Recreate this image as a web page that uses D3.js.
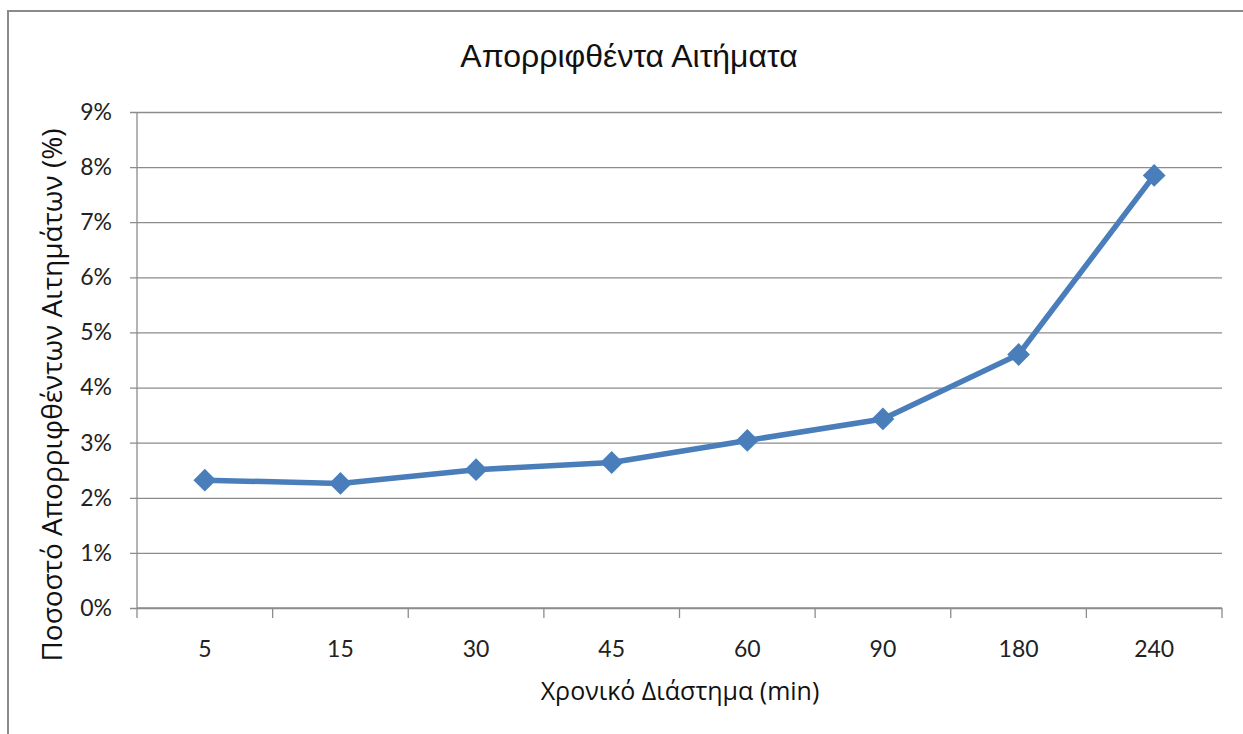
<!DOCTYPE html>
<html>
<head>
<meta charset="utf-8">
<script src="https://cdn.jsdelivr.net/npm/d3@7"></script>
<style>
  html, body { margin: 0; padding: 0; background: #fff; }
  svg { display: block; }
</style>
</head>
<body>
<svg id="chart" width="1243" height="734"></svg>
<script>
// Rejected requests (%) per time window
const categories = ["5", "15", "30", "45", "60", "90", "180", "240"];
const rejectedPct = [2.32, 2.26, 2.51, 2.64, 3.04, 3.43, 4.6, 7.85];
const yTicks = [0, 1, 2, 3, 4, 5, 6, 7, 8, 9];

const titleText = "Απορριφθέντα Αιτήματα";
const xTitleText = "Χρονικό Διάστημα (min)";
const yTitleText = "Ποσοστό Απορριφθέντων Αιτημάτων (%)";

const svg = d3.select("#chart");
const W = 1243, H = 734;
const plot = { left: 137, right: 1222, top: 112, bottom: 608 };
const lineColor = "#4a7ebb";
const gridColor = "#8c8c8c";
const tickFont = "Lato, 'Open Sans', sans-serif";

// outer frame
svg.append("rect")
  .attr("x", 8).attr("y", 11)
  .attr("width", W + 10).attr("height", H + 10)
  .attr("fill", "none").attr("stroke", "#8a8a8a").attr("stroke-width", 2);

const x = d3.scaleBand().domain(categories).range([plot.left, plot.right]).padding(0);
const y = d3.scaleLinear().domain([0, 9]).range([plot.bottom, plot.top]);

// horizontal gridlines + y axis
const yAxis = d3.axisLeft(y)
  .tickValues(yTicks)
  .tickSize(-(plot.right - plot.left))
  .tickSizeOuter(0)
  .tickPadding(25)
  .tickFormat(d => d + "%");
const gy = svg.append("g").attr("transform", `translate(${plot.left},0)`).call(yAxis);
gy.select(".domain").remove();
gy.selectAll(".tick line").attr("stroke", gridColor).attr("stroke-width", 1.3).attr("x1", -7);
gy.selectAll(".tick text")
  .attr("font-family", tickFont)
  .attr("font-size", 23).attr("fill", "#222");

// vertical axis line
svg.append("line")
  .attr("x1", plot.left).attr("x2", plot.left)
  .attr("y1", plot.top).attr("y2", plot.bottom)
  .attr("stroke", gridColor).attr("stroke-width", 1.3);

// category axis with ticks between categories
const gx = svg.append("g").attr("transform", `translate(0,${plot.bottom})`);
gx.append("line")
  .attr("x1", plot.left).attr("x2", plot.right)
  .attr("stroke", gridColor).attr("stroke-width", 1.3);
const bounds = categories.map(c => x(c)).concat([x(categories[categories.length - 1]) + x.bandwidth()]);
gx.selectAll("line.tk").data(bounds).join("line").attr("class", "tk")
  .attr("x1", d => d).attr("x2", d => d)
  .attr("y1", 0).attr("y2", 10)
  .attr("stroke", gridColor).attr("stroke-width", 1.3);
gx.selectAll("text").data(categories).join("text")
  .attr("x", d => x(d) + x.bandwidth() / 2)
  .attr("y", 49)
  .attr("text-anchor", "middle")
  .attr("font-family", tickFont)
  .attr("font-size", 23).attr("fill", "#222")
  .text(d => d);

// series line
const pts = categories.map((c, i) => [x(c) + x.bandwidth() / 2, y(rejectedPct[i])]);
svg.append("path")
  .attr("d", d3.line()(pts))
  .attr("fill", "none")
  .attr("stroke", lineColor)
  .attr("stroke-width", 5.5)
  .attr("stroke-linejoin", "round");

// diamond markers
svg.selectAll("path.mk").data(pts).join("path").attr("class", "mk")
  .attr("transform", d => `translate(${d[0]},${d[1]}) rotate(45)`)
  .attr("d", d3.symbol().type(d3.symbolSquare).size(260)())
  .attr("fill", lineColor);

// titles
svg.append("text")
  .attr("x", 629).attr("y", 67)
  .attr("text-anchor", "middle")
  .attr("font-family", "'Liberation Sans', Arial, sans-serif")
  .attr("font-size", 32).attr("fill", "#111")
  .text(titleText);

svg.append("text")
  .attr("x", 680).attr("y", 700)
  .attr("text-anchor", "middle")
  .attr("font-family", "'Open Sans', 'Noto Sans', sans-serif")
  .attr("font-size", 25).attr("fill", "#111")
  .text(xTitleText);

svg.append("text")
  .attr("transform", "translate(62,395) rotate(-90)")
  .attr("text-anchor", "middle")
  .attr("font-family", "'Open Sans', 'Noto Sans', sans-serif")
  .attr("font-size", 28).attr("fill", "#111")
  .text(yTitleText);
</script>
</body>
</html>
